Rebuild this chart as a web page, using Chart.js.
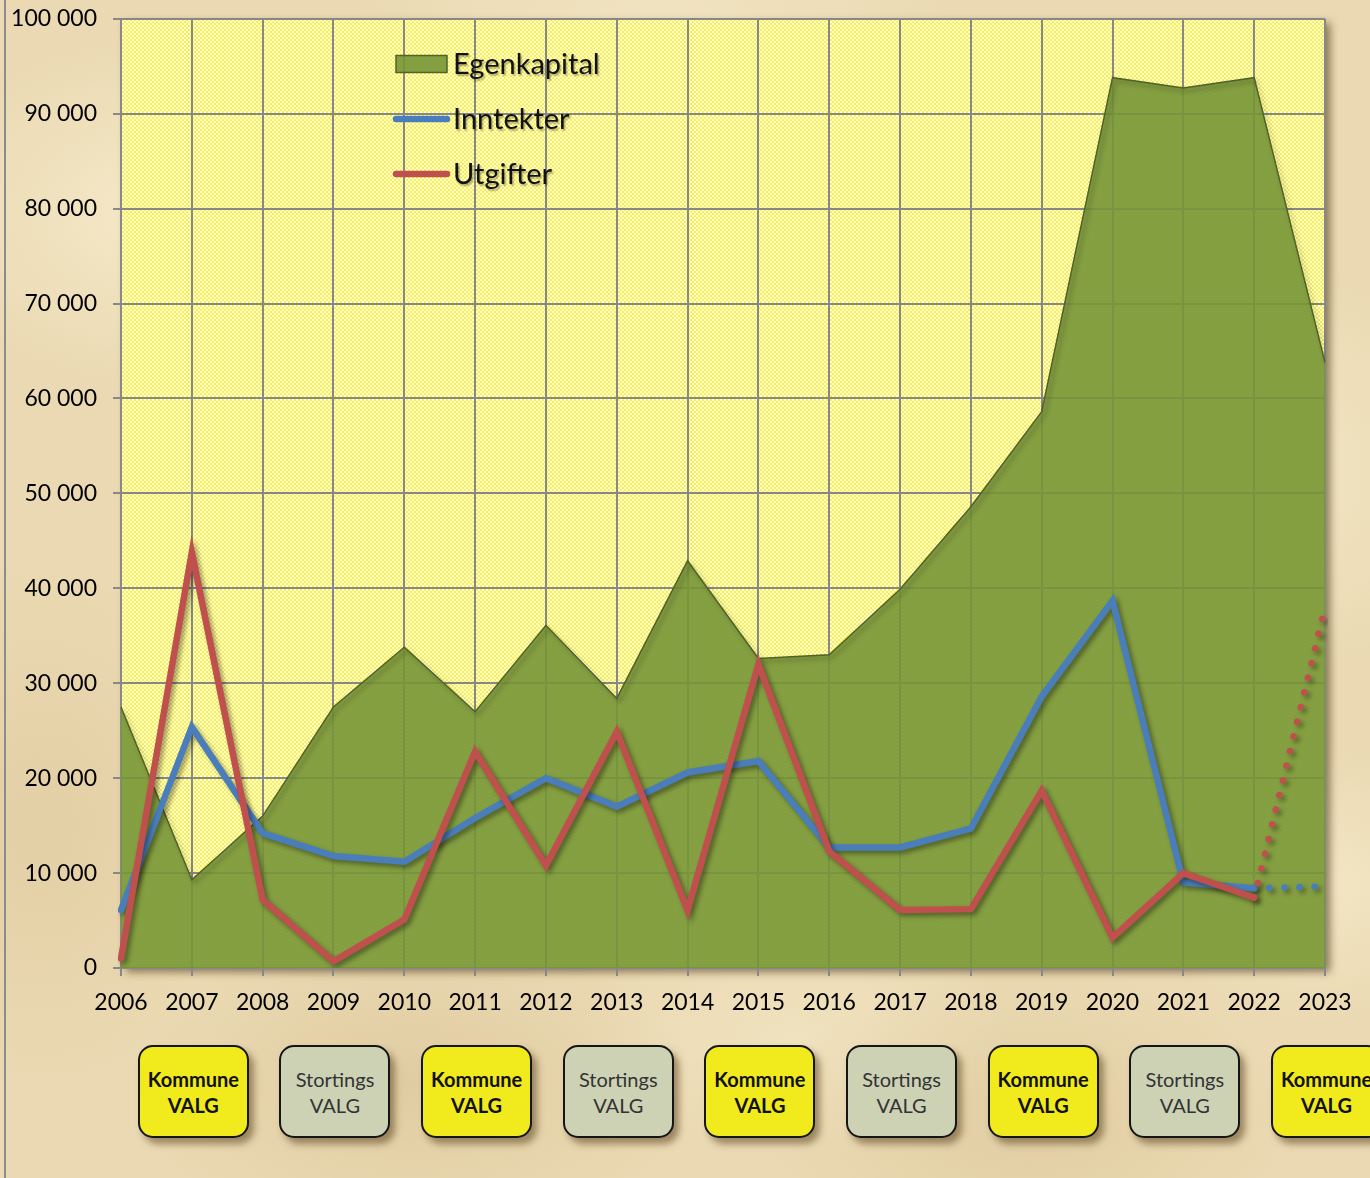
<!DOCTYPE html>
<html>
<head>
<meta charset="utf-8">
<script src="https://cdn.jsdelivr.net/npm/chart.js@4.4.1/dist/chart.umd.min.js"></script>
<style>
html,body{margin:0;padding:0;width:1370px;height:1178px;overflow:hidden;}
body{
  position:relative;
  font-family: Lato, "Open Sans", sans-serif;
  background-color:#ead9b2;
  background-image:
    radial-gradient(ellipse 260px 180px at 12% 18%, rgba(250,238,208,0.75), rgba(250,238,208,0) 100%),
    radial-gradient(ellipse 320px 200px at 48% 6%, rgba(248,236,205,0.7), rgba(248,236,205,0) 100%),
    radial-gradient(ellipse 300px 220px at 88% 40%, rgba(250,240,210,0.7), rgba(250,240,210,0) 100%),
    radial-gradient(ellipse 280px 160px at 30% 92%, rgba(210,185,138,0.4), rgba(210,185,138,0) 100%),
    radial-gradient(ellipse 260px 150px at 75% 95%, rgba(212,188,140,0.4), rgba(212,188,140,0) 100%),
    radial-gradient(ellipse 200px 260px at 3% 70%, rgba(220,195,150,0.45), rgba(220,195,150,0) 100%),
    radial-gradient(ellipse 180px 140px at 96% 75%, rgba(248,236,205,0.7), rgba(248,236,205,0) 100%),
    radial-gradient(ellipse 220px 120px at 58% 88%, rgba(245,232,200,0.6), rgba(245,232,200,0) 100%);
}
#edge{position:absolute;left:4px;top:0;width:2px;height:1178px;background:#8c8c8c;}
#wrap{position:absolute;left:0;top:-11px;width:1370px;height:1051px;}
.box{
  position:absolute;top:1045px;width:107px;height:89px;
  border:2px solid #151515;border-radius:15px;
  box-shadow:5px 6px 7px rgba(90,65,30,0.55);
  display:flex;flex-direction:column;justify-content:center;align-items:center;
  font-size:20px;line-height:26px;
}
.k{background:#f1ea1c;font-weight:bold;color:#111;}
.s{background:#ccd2b3;color:#333;}
</style>
</head>
<body>
<div id="edge"></div>
<div id="wrap"><canvas id="c" width="1370" height="1051"></canvas></div>
<script>
const years = ['2006','2007','2008','2009','2010','2011','2012','2013','2014','2015','2016','2017','2018','2019','2020','2021','2022','2023'];
const egenkapital = [27500, 9300, 16000, 27500, 33800, 27000, 36100, 28400, 42900, 32600, 33000, 39900, 48600, 58600, 93800, 92700, 93800, 63800];
const inntekter   = [6100, 25400, 14200, 11800, 11200, 15800, 20000, 17000, 20600, 21800, 12700, 12700, 14700, 28600, 38700, 9000, 8400, 8600];
const utgifter    = [1000, 43800, 7200, 700, 5100, 22800, 10800, 24900, 6100, 32000, 12300, 6100, 6200, 18700, 3200, 10000, 7400, 38000];
const seriesLabels = ['Egenkapital', 'Inntekter', 'Utgifter'];
const kommuneYears = ['2007','2011','2015','2019','2023'];
const stortingsYears = ['2009','2013','2017','2021'];
const yMin = 0, yMax = 100000, yStep = 10000;

const green = 'rgba(120,150,56,0.9)';
const greenBorder = '#4f6228';
const blue = '#4a7ebb';
const red = '#c0504d';

// dotted yellow pattern for plot background
const tile = document.createElement('canvas');
tile.width = 4; tile.height = 4;
const tc = tile.getContext('2d');
tc.fillStyle = '#ffffff'; tc.fillRect(0,0,4,4);
tc.fillStyle = '#fff52a'; tc.fillRect(0,0,2,2); tc.fillRect(2,2,2,2);
const pattern = tc.createPattern(tile, 'repeat');

const fmt = v => String(v).replace(/\B(?=(\d{3})+(?!\d))/g, ' ');
const lastIdx = years.length - 1;
const dotted = ctx => ctx.p1DataIndex === lastIdx ? [0.1, 15] : undefined;

const plotBg = {
  id: 'plotBg',
  beforeDraw(chart) {
    const {ctx, chartArea: a} = chart;
    ctx.save();
    ctx.shadowColor = 'rgba(70,50,20,0.6)';
    ctx.shadowBlur = 8; ctx.shadowOffsetX = 5; ctx.shadowOffsetY = 4;
    ctx.fillStyle = pattern;
    ctx.fillRect(a.left, a.top, a.right - a.left, a.bottom - a.top);
    ctx.restore();
  }
};

const shadow = {
  id: 'shadow',
  beforeDatasetDraw(chart) {
    const ctx = chart.ctx;
    ctx.save();
    ctx.shadowColor = 'rgba(0,0,0,0.4)';
    ctx.shadowBlur = 5; ctx.shadowOffsetX = 3; ctx.shadowOffsetY = 3;
  },
  afterDatasetDraw(chart) { chart.ctx.restore(); }
};

const legend = {
  id: 'customLegend',
  afterDatasetsDraw(chart) {
    const ctx = chart.ctx;
    const off = 11;
    const x0 = 396, w = 51, ys = [64 + off, 119 + off, 174 + off];
    ctx.save();
    ctx.fillStyle = green; ctx.strokeStyle = greenBorder; ctx.lineWidth = 1.5;
    ctx.fillRect(x0, ys[0] - 8.5, w, 17); ctx.strokeRect(x0, ys[0] - 8.5, w, 17);
    ctx.lineCap = 'round'; ctx.lineWidth = 6.5;
    [[blue, ys[1]], [red, ys[2]]].forEach(([c, y]) => {
      ctx.strokeStyle = c; ctx.beginPath(); ctx.moveTo(x0, y); ctx.lineTo(x0 + w, y); ctx.stroke();
    });
    ctx.font = '29px Lato, "Open Sans", sans-serif';
    ctx.textBaseline = 'middle'; ctx.textAlign = 'left';
    ctx.shadowColor = 'rgba(0,0,0,0.35)'; ctx.shadowBlur = 2; ctx.shadowOffsetX = 1.5; ctx.shadowOffsetY = 1.5;
    ctx.fillStyle = '#111';
    seriesLabels.forEach((t, i) => ctx.fillText(t, 453, ys[i] + 1));
    ctx.restore();
  }
};

const boxes = {
  id: 'boxes',
  afterRender(chart) {
    if (chart._boxesDone) return;
    chart._boxesDone = true;
    const xs = chart.scales.x;
    const add = (y, cls, l1, l2) => {
      const d = document.createElement('div');
      d.className = 'box ' + cls;
      d.innerHTML = '<div>' + l1 + '</div><div>' + l2 + '</div>';
      d.style.left = (xs.getPixelForValue(years.indexOf(y)) - 54) + 'px';
      document.body.appendChild(d);
    };
    kommuneYears.forEach(y => add(y, 'k', 'Kommune', 'VALG'));
    stortingsYears.forEach(y => add(y, 's', 'Stortings', 'VALG'));
  }
};

const gridColor = '#888888';
new Chart(document.getElementById('c'), {
  type: 'line',
  data: {
    labels: years,
    datasets: [
      { label: seriesLabels[0], data: egenkapital, fill: 'origin', backgroundColor: green,
        borderColor: greenBorder, borderWidth: 1.5, pointRadius: 0, order: 3, tension: 0 },
      { label: seriesLabels[1], data: inntekter, fill: false, borderColor: blue, borderWidth: 6.5,
        pointRadius: 0, order: 2, tension: 0, borderCapStyle: 'round', borderJoinStyle: 'miter',
        segment: { borderDash: dotted } },
      { label: seriesLabels[2], data: utgifter, fill: false, borderColor: red, borderWidth: 6.5,
        pointRadius: 0, order: 1, tension: 0, borderCapStyle: 'round', borderJoinStyle: 'miter',
        segment: { borderDash: dotted } }
    ]
  },
  options: {
    responsive: false,
    animation: false,
    layout: { padding: { top: 6, right: 45, left: 0, bottom: 0 } },
    plugins: { legend: { display: false }, tooltip: { enabled: false } },
    scales: {
      x: {
        offset: false,
        grid: { color: gridColor, lineWidth: 2, tickLength: 8, drawTicks: true },
        border: { color: gridColor, width: 2 },
        ticks: { color: '#000', font: { size: 23, family: 'Lato' }, padding: 13, maxRotation: 0, autoSkip: false },
        afterFit(s) { s.height = 72; }
      },
      y: {
        min: yMin, max: yMax,
        grid: { color: gridColor, lineWidth: 2, tickLength: 8, drawTicks: true },
        border: { color: gridColor, width: 2 },
        ticks: { stepSize: yStep, color: '#000', font: { size: 23, family: 'Lato' }, padding: 16, callback: v => fmt(v) },
        afterFit(s) { s.width = 121; }
      }
    }
  },
  plugins: [plotBg, shadow, legend, boxes]
});
</script>
</body>
</html>
